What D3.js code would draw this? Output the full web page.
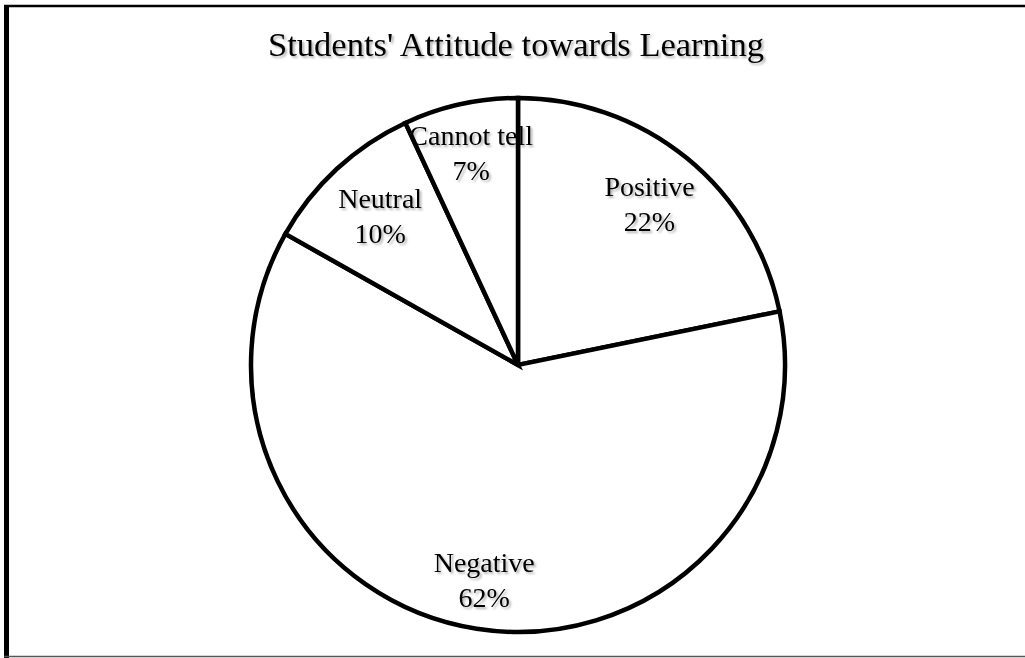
<!DOCTYPE html>
<html>
<head>
<meta charset="utf-8">
<script src="https://cdn.jsdelivr.net/npm/d3@7"></script>
<style>
  html, body { margin: 0; padding: 0; background: #fff; }
  svg { display: block; }
  text { font-family: "Liberation Serif", "Times New Roman", serif; fill: #000; }
</style>
</head>
<body>
<svg id="chart" width="1025" height="658"></svg>
<script>
// Survey result: students' attitude towards learning
const categories = ["Positive", "Negative", "Neutral", "Cannot tell"];
const percentages = [22, 62, 10, 7];
const title = "Students' Attitude towards Learning";

// Distance of each label block from the pie centre
const labelRadius = [208, 218, 203, 217];

const W = 1025, H = 658;
const cx = 518, cy = 365, R = 267;

const svg = d3.select("#chart");

// soft grey shadow behind all text
const defs = svg.append("defs");
const f = defs.append("filter").attr("id", "shadow")
  .attr("x", "-10%").attr("y", "-20%").attr("width", "130%").attr("height", "160%");
f.append("feDropShadow").attr("dx", 2).attr("dy", 2)
  .attr("stdDeviation", 1.2).attr("flood-color", "#000").attr("flood-opacity", 0.3);

// frame
svg.append("rect").attr("x", 0).attr("y", 0).attr("width", W).attr("height", H).attr("fill", "#fff");
svg.append("line").attr("x1", 4).attr("x2", W).attr("y1", 6).attr("y2", 6)
  .attr("stroke", "#000").attr("stroke-width", 2.5);
svg.append("line").attr("x1", 6.5).attr("x2", 6.5).attr("y1", 5).attr("y2", H)
  .attr("stroke", "#000").attr("stroke-width", 5);
svg.append("line").attr("x1", 4).attr("x2", W).attr("y1", 656.5).attr("y2", 656.5)
  .attr("stroke", "#555").attr("stroke-width", 1.5);

// title
svg.append("text")
  .attr("x", 516).attr("y", 56)
  .attr("text-anchor", "middle")
  .attr("font-size", 34.5)
  .attr("filter", "url(#shadow)")
  .text(title);

const data = categories.map((c, i) => ({ name: c, value: percentages[i], i }));

const pie = d3.pie().value(d => d.value).sort(null);
const arcs = pie(data);
const arc = d3.arc().innerRadius(0).outerRadius(R);

const g = svg.append("g").attr("transform", `translate(${cx},${cy})`);

g.selectAll("path.slice")
  .data(arcs)
  .join("path")
  .attr("class", "slice")
  .attr("d", arc)
  .attr("fill", "#fff")
  .attr("stroke", "#000")
  .attr("stroke-width", 4.5)
  .attr("stroke-linejoin", "miter");

// labels: name on the first line, percentage below
const lbl = g.selectAll("g.label")
  .data(arcs)
  .join("g")
  .attr("class", "label")
  .attr("transform", d => {
    const a = (d.startAngle + d.endAngle) / 2;
    const r = labelRadius[d.data.i];
    return `translate(${r * Math.sin(a)},${-r * Math.cos(a)})`;
  })
  .attr("filter", "url(#shadow)");

lbl.append("text")
  .attr("text-anchor", "middle")
  .attr("font-size", 28)
  .attr("y", -8)
  .text(d => d.data.name);

lbl.append("text")
  .attr("text-anchor", "middle")
  .attr("font-size", 28)
  .attr("y", 27)
  .text(d => d.data.value + "%");
</script>
</body>
</html>
